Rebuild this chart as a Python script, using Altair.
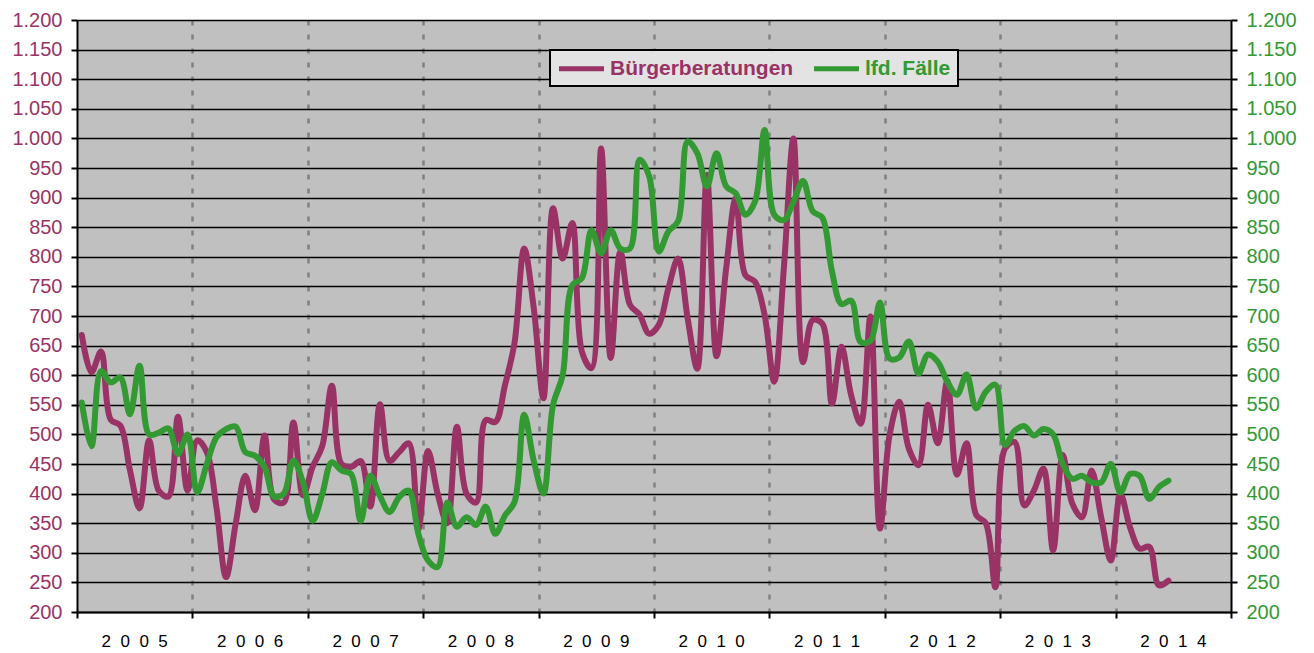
import altair as alt
import pandas as pd

YEARS = ["2005", "2006", "2007", "2008", "2009", "2010", "2011", "2012", "2013", "2014"]
SERIES = ["Bürgerberatungen", "lfd. Fälle"]

# monthly values, Jan 2005 .. Jun 2014
BUERGER = [
    668, 605, 640, 525, 515, 440, 375, 490, 405, 395, 530, 405,
    490, 470, 377, 259, 349, 430, 372, 498, 390, 385, 520, 397,
    445, 480, 582, 450, 445, 455, 378, 551, 455, 470, 485, 340,
    472, 400, 350, 513, 400, 385, 524, 521, 583, 655, 814, 713,
    561, 882, 797, 857, 640, 612, 983, 629, 809, 719, 702, 670,
    685, 747, 797, 696, 611, 938, 632, 780, 899, 769, 758, 702,
    589, 780, 1000, 622, 693, 687, 552, 648, 566, 518, 699, 341,
    499, 555, 476, 448, 550, 485, 590, 432, 485, 364, 350, 242,
    476, 487, 380, 405, 442, 304, 465, 383, 360, 439, 360, 287,
    399, 343, 307, 310, 245, 253,
]
FAELLE = [
    554, 480, 607, 588, 596, 534, 616, 500, 503, 510, 467, 500,
    402, 450, 495, 509, 513, 470, 464, 445, 395, 400, 456, 419,
    354, 399, 453, 439, 433, 354, 430, 396, 369, 394, 405, 332,
    287, 276, 385, 344, 360, 347, 378, 332, 363, 386, 533, 455,
    400, 550, 600, 752, 764, 845, 806, 845, 814, 814, 964, 936,
    809, 843, 860, 995, 975, 919, 975, 919, 907, 871, 893, 1014,
    871, 862, 893, 928, 877, 866, 776, 720, 726, 656, 658, 723,
    628, 630, 657, 603, 635, 623, 589, 567, 601, 544, 572, 584,
    482, 506, 514, 498, 509, 500, 450, 425, 430, 419, 419, 450,
    402, 433, 430, 391, 411, 422,
]
Y_TICKS = list(range(200, 1201, 50))
X_TICKS = list(range(0, 121, 12))

W, H = 1154, 592
MAGENTA = "#993366"
GREEN = "#339933"
FONT = "Liberation Sans"

n = len(BUERGER)
df = pd.DataFrame({
    "m": [i + 0.5 for i in range(n)] * 2,
    "v": BUERGER + FAELLE,
    "s": [SERIES[0]] * n + [SERIES[1]] * n,
})
yr = pd.DataFrame({
    "m": [12 * k + 6 for k in range(len(YEARS))],
    "t": ["\u2007".join(y) for y in YEARS],
})

x_enc = alt.X(
    "m:Q",
    scale=alt.Scale(domain=[0, 120], nice=False, zero=False),
    axis=alt.Axis(
        values=X_TICKS, labels=False, title=None,
        grid=True, gridColor="#808080", gridDash=[5, 9], gridWidth=2.5,
        gridOpacity={"condition": {"test": "datum.value == 0 || datum.value == 120", "value": 0}, "value": 1},
        domainColor="black", domainWidth=2, tickColor="black", tickWidth=2, tickSize=6,
    ),
)

label_expr = "datum.value >= 1000 ? '1.' + format(datum.value - 1000, '03d') : format(datum.value, 'd')"

def y_enc(orient, color, grid):
    return alt.Y(
        "v:Q",
        scale=alt.Scale(domain=[200, 1200], nice=False, zero=False),
        axis=alt.Axis(
            orient=orient, values=Y_TICKS, title=None, labelExpr=label_expr,
            labelColor=color, labelFont=FONT, labelFontSize=20, labelPadding=9,
            tickColor="black", tickWidth=2, tickSize=6,
            domainColor="black", domainWidth=2,
            grid=grid, gridColor="black", gridWidth=1.5,
        ),
    )

legend = alt.Legend(
    orient="none", legendX=473, legendY=30, direction="horizontal", title=None,
    symbolType="M-2.5,0H2.5", symbolSize=324, symbolStrokeWidth=5, symbolOffset=13,
    labelFont=FONT, labelFontSize=21, labelFontWeight="bold", labelOffset=17,
    labelColor={"expr": "datum.value == 'Bürgerberatungen' ? '#993366' : '#339933'"},
    labelLimit=400, columnPadding=10, padding=7,
    fillColor="#E3E3E3", strokeColor="black", cornerRadius=0,
)
color_enc = alt.Color("s:N", scale=alt.Scale(domain=SERIES, range=[MAGENTA, GREEN]), legend=legend)

base = alt.Chart(df)
l1 = base.transform_filter(alt.datum.s == SERIES[0]).mark_line(
    interpolate="catmull-rom", strokeWidth=6, strokeJoin="round", strokeCap="round"
).encode(x=x_enc, y=y_enc("left", MAGENTA, True), color=color_enc)
l2 = base.transform_filter(alt.datum.s == SERIES[1]).mark_line(
    interpolate="catmull-rom", strokeWidth=6, strokeJoin="round", strokeCap="round"
).encode(x=x_enc, y=y_enc("right", GREEN, False), color=color_enc)

years = alt.Chart(yr).mark_text(
    font=FONT, fontSize=17, color="black", baseline="alphabetic", align="center"
).encode(x=x_enc, y=alt.value(H + 35), text="t:N")

chart = alt.layer(l1, l2, years).resolve_scale(y="independent").properties(
    width=W, height=H,
    padding={"left": 69, "top": 12, "right": 75, "bottom": 40},
    autosize=alt.AutoSizeParams(type="none"),
    background="white",
).configure_view(fill="#C0C0C0", stroke="transparent").configure_legend(strokeWidth=2)

chart.save("out.html", embed_options={"renderer": "svg", "actions": False})
